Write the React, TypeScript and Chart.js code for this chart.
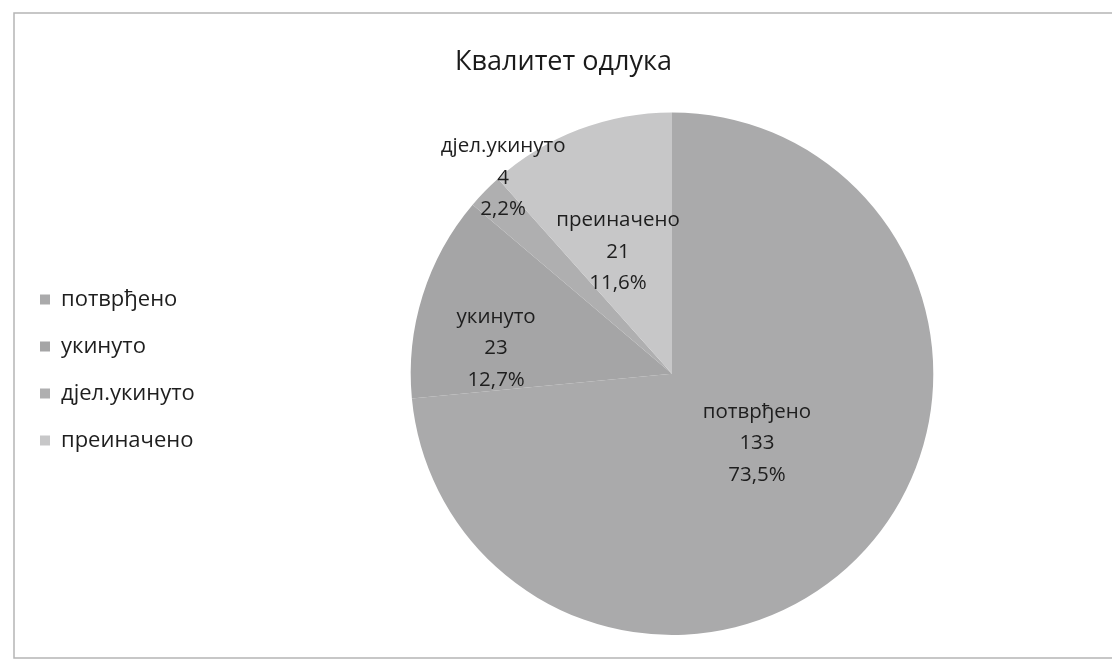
import React, { useEffect, useRef } from "react";
import { Chart, registerables } from "chart.js";

Chart.register(...registerables);

const TITLE = "Квалитет одлука";
const categories = ["потврђено", "укинуто", "дјел.укинуто", "преиначено"];
const counts = [133, 23, 4, 21];
const sliceColors = ["#aaaaab", "#a5a5a6", "#afafb0", "#c7c7c8"];
// label placement relative to each arc: fraction of outer radius, angle shift (deg)
const labelRadius = [0.42, 0.68, 0.99, 0.51];
const labelShift = [-3, -9.3, 5, -3];

const FONT = "'Open Sans', 'Noto Sans', sans-serif";
const LEGEND_MIN_WIDTH = 217;

const labelPlugin = {
  id: "sliceLabels",
  afterDatasetsDraw(chart: any) {
    const ctx = chart.ctx as CanvasRenderingContext2D;
    const meta = chart.getDatasetMeta(0);
    const data = chart.data.datasets[0].data as number[];
    const total = data.reduce((a, b) => a + b, 0);
    ctx.save();
    ctx.font = `20.5px ${FONT}`;
    ctx.fillStyle = "#1e1e1e";
    ctx.textAlign = "center";
    ctx.textBaseline = "middle";
    meta.data.forEach((arc: any, i: number) => {
      const p = arc.getProps(["x", "y", "startAngle", "endAngle", "outerRadius"], true);
      const a = (p.startAngle + p.endAngle) / 2 + (labelShift[i] * Math.PI) / 180;
      const r = p.outerRadius * labelRadius[i];
      const cx = p.x + r * Math.cos(a);
      const cy = p.y + r * Math.sin(a);
      const lines = [
        String(chart.data.labels[i]),
        String(data[i]),
        ((data[i] / total) * 100).toFixed(1).replace(".", ",") + "%",
      ];
      lines.forEach((t, k) => ctx.fillText(t, cx, cy + (k - 1) * 31.5));
    });
    ctx.restore();
  },
};

const framePlugin = {
  id: "frame",
  beforeLayout(chart: any) {
    const lg = chart.legend;
    if (lg && !lg.__widened) {
      const orig = lg.fit.bind(lg);
      lg.fit = function () {
        orig();
        this.width = Math.max(this.width, LEGEND_MIN_WIDTH);
      };
      lg.__widened = true;
    }
  },
  beforeDraw(chart: any) {
    const ctx = chart.ctx as CanvasRenderingContext2D;
    ctx.save();
    ctx.fillStyle = "#ffffff";
    ctx.fillRect(0, 0, chart.width, chart.height);
    ctx.strokeStyle = "#b5b5b5";
    ctx.lineWidth = 1.5;
    ctx.strokeRect(14, 13, chart.width, chart.height - 15);
    ctx.restore();
  },
};

export default function App() {
  const ref = useRef<HTMLCanvasElement | null>(null);
  useEffect(() => {
    if (!ref.current) return;
    Chart.defaults.font.family = FONT;
    const chart = new Chart(ref.current, {
      type: "pie",
      data: {
        labels: categories,
        datasets: [
          {
            data: counts,
            backgroundColor: sliceColors,
            borderWidth: 0,
          },
        ],
      },
      options: {
        animation: false,
        responsive: true,
        maintainAspectRatio: false,
        events: [],
        layout: { padding: { left: 15, right: 0, top: 18, bottom: 25 } },
        plugins: {
          title: {
            display: true,
            text: TITLE,
            color: "#1a1a1a",
            font: { size: 27, weight: "normal", family: FONT },
            padding: { top: 28, bottom: 34 },
          },
          legend: {
            position: "left",
            title: { display: true, text: "", font: { size: 20 }, padding: { top: 63, bottom: 0 } },
            labels: {
              boxWidth: 10,
              boxHeight: 10,
              padding: 25,
              color: "#1e1e1e",
              font: { size: 22, family: FONT },
            },
          },
          tooltip: { enabled: false },
        },
      },
      plugins: [framePlugin, labelPlugin],
    });
    return () => chart.destroy();
  }, []);
  return (
    <div style={{ position: "fixed", left: 0, top: 0, width: 1112, height: 660 }}>
      <canvas ref={ref} />
    </div>
  );
}
